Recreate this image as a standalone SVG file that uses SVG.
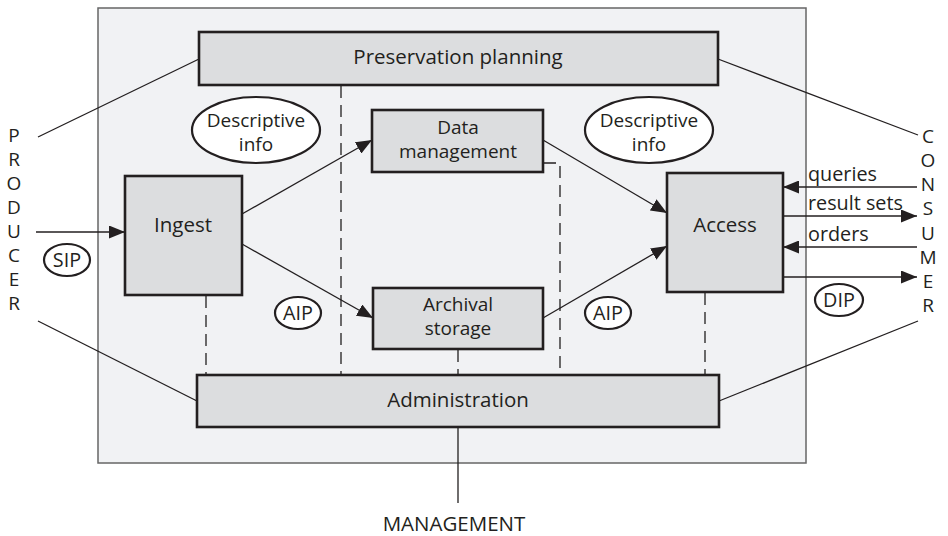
<svg xmlns="http://www.w3.org/2000/svg" width="948" height="536" viewBox="0 0 948 536">
<defs>
<marker id="ah" markerUnits="userSpaceOnUse" markerWidth="17" markerHeight="13" refX="16" refY="6.5" orient="auto">
<path d="M0,0 L16,6.5 L0,13 Z" fill="#231f20"/>
</marker>
<style>
text{font-family:"Open Sans","Liberation Sans",sans-serif;font-size:19px;fill:#231f20}
.c{text-anchor:middle}
.big{font-size:20.5px}
.mid{font-size:19.8px}
.box{fill:#dcdddf;stroke:#231f20;stroke-width:2.6}
.ell{fill:#ffffff;stroke:#231f20;stroke-width:2.2}
.ln{stroke:#231f20;stroke-width:1.3;fill:none}
.arr{stroke:#231f20;stroke-width:1.3;fill:none;marker-end:url(#ah)}
.dash{stroke:#231f20;stroke-width:1.3;fill:none;stroke-dasharray:12 7}
</style>
</defs>
<rect width="948" height="536" fill="#ffffff"/>
<rect id="system" x="98" y="8" width="708" height="455" fill="#f1f2f4" stroke="#666666" stroke-width="1.5"/>

<g id="connectors">
<line class="dash" x1="341" y1="86" x2="341" y2="375"/>
<line class="dash" x1="206" y1="296" x2="206" y2="375"/>
<line class="dash" x1="458" y1="350" x2="458" y2="375"/>
<polyline class="dash" points="544,163 560,163 560,375"/>
<line class="dash" x1="705" y1="293" x2="705" y2="375"/>
<line class="arr" x1="242" y1="214" x2="372" y2="140"/>
<line class="arr" x1="242" y1="244" x2="373" y2="318"/>
<line class="arr" x1="543" y1="140" x2="667" y2="213"/>
<line class="arr" x1="543" y1="318" x2="667" y2="246"/>
<line class="arr" x1="36" y1="232" x2="125" y2="232"/>
<line class="arr" x1="917" y1="187" x2="783" y2="187"/>
<line class="arr" x1="783" y1="216" x2="917" y2="216"/>
<line class="arr" x1="917" y1="247" x2="783" y2="247"/>
<line class="arr" x1="783" y1="277" x2="917" y2="277"/>
<line class="ln" x1="199" y1="59" x2="38" y2="137"/>
<line class="ln" x1="718" y1="59" x2="918" y2="135"/>
<line class="ln" x1="197" y1="401" x2="38" y2="321"/>
<line class="ln" x1="719" y1="401" x2="918" y2="321"/>
<line class="ln" x1="458" y1="427" x2="458" y2="503"/>
</g>

<g id="preservation-planning">
<rect class="box" x="199" y="32" width="519" height="53"/>
<text class="c big" x="458" y="64">Preservation planning</text>
</g>
<g id="ingest">
<rect class="box" x="125" y="176" width="117" height="119"/>
<text class="c big" x="183" y="232">Ingest</text>
</g>
<g id="data-management">
<rect class="box" x="372" y="110" width="171" height="62"/>
<text class="c" x="458" y="134">Data</text>
<text class="c" x="458" y="158">management</text>
</g>
<g id="archival-storage">
<rect class="box" x="373" y="288" width="170" height="61"/>
<text class="c" x="458" y="311">Archival</text>
<text class="c" x="458" y="335">storage</text>
</g>
<g id="access">
<rect class="box" x="667" y="173" width="116" height="119"/>
<text class="c big" x="725" y="232">Access</text>
</g>
<g id="administration">
<rect class="box" x="197" y="375" width="522" height="52"/>
<text class="c big" x="458" y="407">Administration</text>
</g>

<g id="descriptive-info-left">
<ellipse class="ell" cx="256" cy="130" rx="64" ry="33"/>
<text class="c" x="256" y="127">Descriptive</text>
<text class="c" x="256" y="151">info</text>
</g>
<g id="descriptive-info-right">
<ellipse class="ell" cx="649" cy="130" rx="64" ry="33"/>
<text class="c" x="649" y="127">Descriptive</text>
<text class="c" x="649" y="151">info</text>
</g>
<g id="sip">
<ellipse class="ell" cx="67" cy="260" rx="23" ry="16"/>
<text class="c mid" x="67" y="267">SIP</text>
</g>
<g id="aip-left">
<ellipse class="ell" cx="298" cy="313" rx="23" ry="16"/>
<text class="c mid" x="298" y="320">AIP</text>
</g>
<g id="aip-right">
<ellipse class="ell" cx="608" cy="313" rx="23" ry="16"/>
<text class="c mid" x="608" y="320">AIP</text>
</g>
<g id="dip">
<ellipse class="ell" cx="839" cy="300" rx="24" ry="16"/>
<text class="c mid" x="839" y="307">DIP</text>
</g>

<g id="flow-labels">
<text class="mid" x="808" y="181">queries</text>
<text class="mid" x="808" y="210">result sets</text>
<text class="mid" x="808" y="241">orders</text>
</g>

<g id="producer">
<text class="c" x="14" y="142">P</text>
<text class="c" x="14" y="166">R</text>
<text class="c" x="14" y="190">O</text>
<text class="c" x="14" y="214">D</text>
<text class="c" x="14" y="238">U</text>
<text class="c" x="14" y="262">C</text>
<text class="c" x="14" y="286">E</text>
<text class="c" x="14" y="310">R</text>
</g>
<g id="consumer">
<text class="c" x="928" y="143">C</text>
<text class="c" x="928" y="167">O</text>
<text class="c" x="928" y="191">N</text>
<text class="c" x="928" y="215">S</text>
<text class="c" x="928" y="240">U</text>
<text class="c" x="928" y="264">M</text>
<text class="c" x="928" y="288">E</text>
<text class="c" x="928" y="312">R</text>
</g>
<g id="management">
<text class="c big" x="454" y="531">MANAGEMENT</text>
</g>
</svg>
